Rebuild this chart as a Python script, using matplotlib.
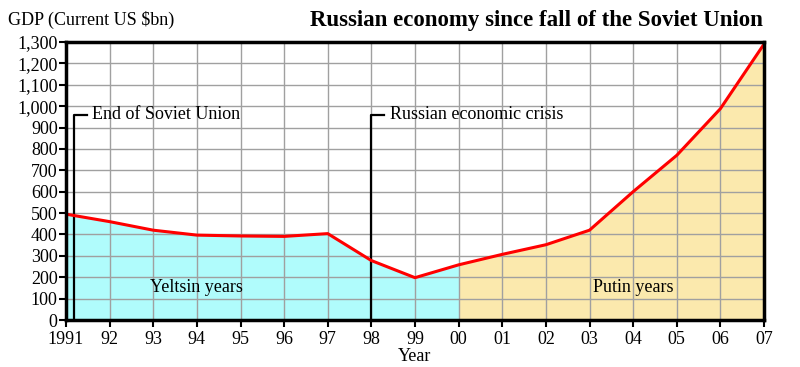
import numpy as np
import matplotlib
matplotlib.use("Agg")
import matplotlib.pyplot as plt

plt.rcParams['font.family'] = ['Liberation Serif', 'DejaVu Serif']

# GDP in current US $bn
years = [1991, 1992, 1993, 1994, 1995, 1996, 1997, 1998, 1999,
         2000, 2001, 2002, 2003, 2004, 2005, 2006, 2007]
gdp = [495, 460, 420, 397, 393, 391, 404, 278, 198,
       258, 307, 352, 420, 600, 770, 988, 1290]
xtick_labels = ['1991', '92', '93', '94', '95', '96', '97', '98', '99',
                '00', '01', '02', '03', '04', '05', '06', '07']
events = [(1991.18, 'End of Soviet Union'), (1998, 'Russian economic crisis')]

years = np.array(years)
gdp = np.array(gdp)

fig = plt.figure(figsize=(8, 3.67), dpi=100)
ax = fig.add_axes([0.0825, 0.128, 0.8725, 0.7576])

yel = years <= 2000
put = years >= 2000
ax.fill_between(years[yel], 0, gdp[yel], color='#b0fcfc', zorder=1, linewidth=0)
ax.fill_between(years[put], 0, gdp[put], color='#fbe9ad', zorder=1, linewidth=0)
ax.plot(years, gdp, color='#ff0000', linewidth=2.2, zorder=4)

ax.set_xlim(1991, 2007)
ax.set_ylim(0, 1300)
ax.set_xticks(years)
ax.set_xticklabels(xtick_labels)
ax.set_yticks(np.arange(0, 1301, 100))
ax.set_yticklabels([f'{v:,}' for v in range(0, 1301, 100)])
ax.grid(True, color='#a0a0a0', linewidth=1, zorder=2)
ax.set_axisbelow(False)
for s in ax.spines.values():
    s.set_linewidth(2.5)
    s.set_zorder(5)
ax.tick_params(direction='out', length=5, width=1.5, labelsize=13)
ax.tick_params(axis='x', pad=3)
ax.tick_params(axis='y', pad=1)

for x, label in events:
    ax.plot([x, x, x + 0.3], [0, 960, 960], color='black', linewidth=1.6, zorder=3,
            clip_on=False)
    ax.text(x + 0.42, 960, label, fontsize=13, va='center', ha='left', zorder=6)

ax.text(1994, 150, 'Yeltsin years', fontsize=13, ha='center', va='center', zorder=6)
ax.text(2004, 150, 'Putin years', fontsize=13, ha='center', va='center', zorder=6)

ax.set_xlabel('Year', fontsize=13, labelpad=0)
fig.text(0.01, 0.945, 'GDP (Current US $bn)', fontsize=13, ha='left', va='center')
fig.text(0.953, 0.945, 'Russian economy since fall of the Soviet Union',
         fontsize=16.5, fontweight='bold', ha='right', va='center')

fig.savefig('out.png', dpi=100)
